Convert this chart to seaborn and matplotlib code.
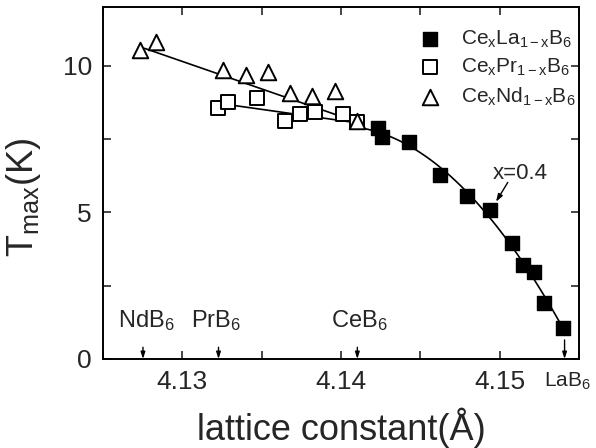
import numpy as np
import seaborn as sns
import matplotlib.pyplot as plt

# CexLa1-xB6
la_x = [4.14232, 4.14259, 4.14428, 4.14624, 4.14791, 4.14939, 4.15078, 4.15146, 4.15215, 4.15278, 4.15399]
la_t = [7.87, 7.56, 7.41, 6.27, 5.56, 5.08, 3.94, 3.20, 2.98, 1.90, 1.05]
# CexPr1-xB6
pr_x = [4.13225, 4.13289, 4.13472, 4.13649, 4.13742, 4.13833, 4.14010, 4.14101]
pr_t = [8.55, 8.75, 8.91, 8.12, 8.35, 8.43, 8.34, 8.09]
# CexNd1-xB6
nd_x = [4.12736, 4.12837, 4.13257, 4.13401, 4.13542, 4.13679, 4.13820, 4.13964, 4.14101]
nd_t = [10.54, 10.82, 9.85, 9.68, 9.80, 9.08, 8.98, 9.14, 8.12]

# guide lines
nd_line_x = [4.12762, 4.14101]
nd_line_t = [10.59, 8.08]
pr_line_x = [4.13225, 4.14101]
pr_line_t = [8.72, 8.05]

# end members
compounds = ['NdB$_6$', 'PrB$_6$', 'CeB$_6$']
compound_x = [4.12752, 4.13228, 4.14103]
compound_label_x = [4.12774, 4.13211, 4.14116]
lab6_x = 4.15409

sns.set_style('ticks')
plt.rcParams['font.family'] = ['Liberation Sans', 'DejaVu Sans']
plt.rcParams['mathtext.fontset'] = 'custom'
plt.rcParams['mathtext.rm'] = 'Liberation Sans'
plt.rcParams['mathtext.it'] = 'Liberation Sans'
plt.rcParams['mathtext.bf'] = 'Liberation Sans:bold'

fig = plt.figure(figsize=(5.96, 4.48), dpi=100)
ax = fig.add_axes([0.1728, 0.1987, 0.7987, 0.7857])

# fit curves
coef = np.polyfit(la_x, la_t, 2)
la_fit_x = np.linspace(4.1410, 4.1540, 60)
la_fit_t = np.polyval(coef, la_fit_x)
sns.lineplot(x=la_fit_x, y=la_fit_t, color='black', linewidth=1.2, ax=ax)
sns.lineplot(x=nd_line_x, y=nd_line_t, color='black', linewidth=1.2, ax=ax)
sns.lineplot(x=pr_line_x, y=pr_line_t, color='black', linewidth=1.2, ax=ax)

sns.scatterplot(x=la_x, y=la_t, marker='s', s=115, color='black', edgecolor='black',
                linewidth=1.0, label=r'Ce$_{\rm x}$La$_{\rm 1-x}$B$_{\rm 6}$', ax=ax, zorder=3)
sns.scatterplot(x=pr_x, y=pr_t, marker='s', s=115, facecolor='white', edgecolor='black',
                linewidth=1.4, label=r'Ce$_{\rm x}$Pr$_{\rm 1-x}$B$_{\rm 6}$', ax=ax, zorder=3)
sns.scatterplot(x=nd_x, y=nd_t, marker='^', s=125, facecolor='white', edgecolor='black',
                linewidth=1.4, label=r'Ce$_{\rm x}$Nd$_{\rm 1-x}$B$_{\rm 6}$', ax=ax, zorder=3)

ax.set_xlim(4.125, 4.155)
ax.set_ylim(0, 12)
ax.set_xticks([4.13, 4.14, 4.15])
ax.set_xticklabels(['4.13', '4.14', '4.15'])
ax.set_xticks([4.125, 4.135, 4.145, 4.155], minor=True)
ax.set_yticks([0, 5, 10])
ax.set_yticks([2.5, 7.5], minor=True)
ax.tick_params(which='both', direction='in', top=True, right=True, width=1.2)
ax.tick_params(which='major', length=6, labelsize=19, pad=8)
ax.tick_params(which='minor', length=6)
for sp in ax.spines.values():
    sp.set_visible(True)
    sp.set_linewidth(1.4)
    sp.set_color('black')

ax.set_xlabel('lattice constant(Å)', fontsize=26, labelpad=10)
ax.set_ylabel(r'T$_{\rm max}$(K)', fontsize=26, labelpad=8)
ax.yaxis.set_label_coords(-0.125, 0.46)

leg = ax.legend(loc='upper right', bbox_to_anchor=(1.02, 0.975), frameon=False, fontsize=15,
                handletextpad=0.9, labelspacing=0.35, borderaxespad=0.2, handlelength=1.2)

# x=0.4 annotation
ax.text(4.15128, 6.31, 'x=0.4', fontsize=16, ha='center', va='center')
ax.annotate('', xy=(4.14977, 5.36), xytext=(4.15051, 6.02),
            arrowprops=dict(arrowstyle='-|>,head_length=0.45,head_width=0.15', color='black', lw=1.0,
                            shrinkA=0, shrinkB=0))

# end member markers
for name, xa, xl in zip(compounds, compound_x, compound_label_x):
    ax.text(xl, 1.08, name, fontsize=17, ha='center', va='baseline')
    ax.annotate('', xy=(xa, 0), xytext=(xa, 0.4),
                arrowprops=dict(arrowstyle='-|>,head_length=0.4,head_width=0.13', color='black', lw=1.0,
                                shrinkA=0, shrinkB=0))
ax.annotate('', xy=(lab6_x, 0), xytext=(lab6_x, 0.65),
            arrowprops=dict(arrowstyle='-|>,head_length=0.4,head_width=0.13', color='black', lw=1.0,
                            shrinkA=0, shrinkB=0))
ax.text(4.1543, -0.4, 'LaB$_6$', fontsize=15, ha='center', va='top', clip_on=False)

fig.savefig('out.png', dpi=100)
